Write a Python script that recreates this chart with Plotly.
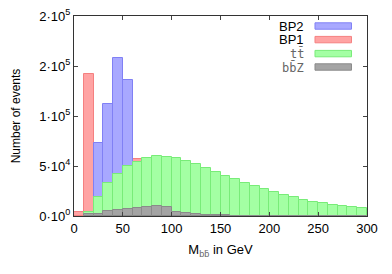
import plotly.graph_objects as go

bin_width = 10

# BP1 (red) bins starting at 0 GeV
bp1_start = 0
bp1_vals = [4300, 142500, 12000, 22000, 35000, 51200, 56900]

# BP2 (blue) bins starting at 20 GeV
bp2_start = 20
bp2_vals = [73000, 112400, 158400, 136400]

# ttbar (green) bins starting at 10 GeV
tt_start = 10
tt_vals = [4300, 18800, 32800, 41800, 50200, 54500, 57900, 60200, 58900, 57900,
           54900, 51900, 48500, 43800, 40100, 36800, 32800, 29700, 26800, 23800,
           21100, 18800, 16100, 14400, 12700, 11000, 10000, 9000, 8000]

# bbZ (gray) bins starting at 10 GeV
bbz_start = 10
bbz_vals = [1700, 2500, 5000, 6000, 7300, 8300, 8700, 10000, 9300, 4300,
            2700, 2000, 1000, 700, 600, 500, 450, 400, 350, 300,
            300, 250, 250, 200, 200, 150, 150, 150, 100]

y_tickvals = [0, 50000, 100000, 150000, 200000]
y_ticktext = ["0·10<sup>0</sup>", "5·10<sup>4</sup>", "1·10<sup>5</sup>",
              "2·10<sup>5</sup>", "2·10<sup>5</sup>"]
x_tickvals = [0, 50, 100, 150, 200, 250, 300]

legend_names = ["BP2", "BP1", "tt̄", "bb̄Z"]


def centers(start, n):
    return [start + bin_width * (i + 0.5) for i in range(n)]


series = [
    (bp1_start, bp1_vals, "#ffa3a3", "#f58080"),
    (bp2_start, bp2_vals, "#a8a8ff", "#8080f5"),
    (tt_start, tt_vals, "#a3ffa3", "#78ec78"),
    (bbz_start, bbz_vals, "#a4a4a4", "#8a8a8a"),
]

fig = go.Figure()
for start, vals, fill, line in series:
    fig.add_trace(go.Bar(
        x=centers(start, len(vals)), y=vals, width=bin_width,
        marker=dict(color=fill, line=dict(color=line, width=1)),
        showlegend=False,
    ))

font = "Liberation Sans, Arial, sans-serif"

# The page body has an 8px default margin, so the figure is offset by 8px.
fig.update_layout(
    width=384, height=266,
    margin=dict(l=66, r=25, t=8, b=58),
    barmode="overlay", bargap=0,
    plot_bgcolor="white", paper_bgcolor="white",
    font=dict(family=font, size=13, color="black"),
    xaxis=dict(range=[0, 300], tickvals=x_tickvals, ticks="inside", ticklen=4,
               showline=True, linecolor="#333", linewidth=1, mirror="ticks",
               showgrid=False, zeroline=False, tickfont=dict(size=13),
               automargin=False, ticklabeloverflow="allow",
               title=dict(text="M<sub><span style='color:#666'>bb̄</span></sub> in GeV",
                          font=dict(size=13), standoff=10)),
    yaxis=dict(range=[0, 200000], tickvals=y_tickvals, ticktext=y_ticktext,
               ticks="inside", ticklen=4, showline=True, linecolor="#333",
               linewidth=1, mirror="ticks", showgrid=False, zeroline=False,
               tickfont=dict(size=13), automargin=False, ticklabeloverflow="allow",
               title=dict(text="Number of events", font=dict(size=12), standoff=16)),
)

# Custom legend (text right-aligned, swatch on the right), matching gnuplot style
legend_fill = ["#a8a8ff", "#ffa3a3", "#a3ffa3", "#a4a4a4"]
legend_line = ["#8080f5", "#f58080", "#78ec78", "#8a8a8a"]
legend_y = [0.95, 0.882, 0.812, 0.745]
legend_font = [font, font, "DejaVu Sans Mono, monospace", "DejaVu Sans Mono, monospace"]
legend_color = ["black", "black", "#666", "#666"]
legend_size = [13, 13, 12, 12]
for name, fc, lc, yy, ff, fcol, fs in zip(legend_names, legend_fill, legend_line,
                                          legend_y, legend_font, legend_color, legend_size):
    fig.add_annotation(x=0.792, y=yy, xref="paper", yref="paper", text=name,
                       showarrow=False, xanchor="right", yanchor="middle",
                       font=dict(family=ff, size=fs, color=fcol))
    fig.add_shape(type="rect", xref="paper", yref="paper",
                  x0=0.8225, x1=0.947, y0=yy - 0.016, y1=yy + 0.016,
                  fillcolor=fc, line=dict(color=lc, width=1))

fig.write_html("out.html")
